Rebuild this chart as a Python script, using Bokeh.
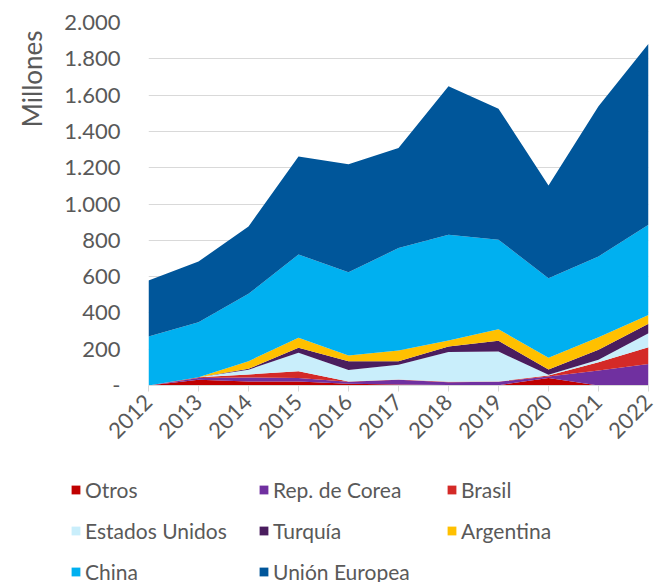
from bokeh.plotting import figure
from bokeh.models import (ColumnDataSource, Legend, LegendItem, FixedTicker,
                          Range1d, Title)
from bokeh.layouts import column
from bokeh.embed import file_html
from bokeh.resources import INLINE
from math import pi

years = [2012, 2013, 2014, 2015, 2016, 2017, 2018, 2019, 2020, 2021, 2022]
otros = [0, 31, 22, 22, 9, 5, 3, 2, 42, 0, 0]
corea = [0, 11, 22, 20, 11, 26, 15, 18, 8, 83, 119]
brasil = [0, 4, 17, 37, 2, 2, 2, 2, 5, 45, 92]
estados_unidos = [0, 0, 26, 101, 64, 81, 164, 165, 4, 14, 77]
turquia = [0, 0, 5, 28, 48, 20, 31, 59, 29, 55, 52]
argentina = [0, 0, 42, 55, 31, 59, 33, 64, 65, 69, 49]
china = [270, 303, 371, 459, 459, 564, 582, 493, 438, 445, 496]
union_europea = [309, 334, 371, 540, 595, 551, 819, 722, 511, 827, 998]

series_keys = ["otros", "corea", "brasil", "eeuu", "turquia", "argentina",
               "china", "ue"]
series_labels = ["Otros", "Rep. de Corea", "Brasil", "Estados Unidos",
                 "Turquía", "Argentina", "China", "Unión Europea"]
colors = ["#C00000", "#7030A0", "#D42A27", "#C9EEFB", "#4A1D5E", "#FFC000",
          "#00B0F0", "#00569A"]

y_ticks = [0, 200, 400, 600, 800, 1000, 1200, 1400, 1600, 1800, 2000]
y_tick_labels = ["-", "200", "400", "600", "800", "1.000", "1.200", "1.400",
                 "1.600", "1.800", "2.000"]

FONT = "Lato"
GRAY = "#595959"

source = ColumnDataSource(dict(
    year=years, otros=otros, corea=corea, brasil=brasil,
    eeuu=estados_unidos, turquia=turquia, argentina=argentina,
    china=china, ue=union_europea))

p = figure(width=654, height=465, output_backend="svg", toolbar_location=None,
           x_range=Range1d(2012, 2022), y_range=Range1d(0, 2000),
           min_border_left=148, min_border_right=6, min_border_top=22,
           min_border_bottom=80)
p.outline_line_color = None
p.background_fill_color = "white"

renderers = p.varea_stack(stackers=series_keys, x="year", color=colors,
                          source=source)

p.xgrid.grid_line_color = None
p.ygrid.grid_line_color = "#D9D9D9"
p.ygrid.grid_line_width = 1
p.ygrid.level = "underlay"

p.yaxis.ticker = FixedTicker(ticks=y_ticks)
p.yaxis.major_label_overrides = {t: l for t, l in zip(y_ticks, y_tick_labels)}
p.yaxis.axis_line_color = None
p.yaxis.major_tick_line_color = None
p.yaxis.major_tick_out = 0
p.yaxis.major_tick_in = 0
p.yaxis.minor_tick_line_color = None
p.yaxis.minor_tick_out = 0
p.yaxis.major_label_standoff = 28
p.yaxis.major_label_text_font = FONT
p.yaxis.major_label_text_font_size = "22px"
p.yaxis.major_label_text_color = GRAY

p.xaxis.ticker = FixedTicker(ticks=years)
p.xaxis.major_label_overrides = {y: str(y) for y in years}
p.xaxis.axis_line_color = "#D9D9D9"
p.xaxis.major_tick_line_color = "#D9D9D9"
p.xaxis.major_tick_out = 6
p.xaxis.major_tick_in = 0
p.xaxis.minor_tick_line_color = None
p.xaxis.major_label_orientation = pi / 4
p.xaxis.major_label_standoff = 7
p.xaxis.major_label_text_font = FONT
p.xaxis.major_label_text_font_size = "22px"
p.xaxis.major_label_text_color = GRAY

ytitle = Title(text="Millones", align="right", vertical_align="top",
               text_font=FONT, text_font_size="26px",
               text_font_style="normal", text_color=GRAY, standoff=24,
               offset=8)
p.add_layout(ytitle, "left")

# legend panel: the same stacked series, drawn outside this panel's ranges,
# so only their legend swatches are visible
lg = figure(width=654, height=117, output_backend="svg", toolbar_location=None,
            x_range=Range1d(0, 1), y_range=Range1d(0, 1),
            min_border_left=0, min_border_right=0, min_border_top=0,
            min_border_bottom=0)
lg.axis.visible = False
lg.grid.grid_line_color = None
lg.outline_line_color = None
swatches = lg.varea_stack(stackers=series_keys, x="year", color=colors,
                          source=source)

legend_x = 70
if "frame_align" in lg.properties():
    lg.frame_align = False
    p.frame_align = False
else:
    legend_x = 70 - 148

items = [LegendItem(label=lab, renderers=[r])
         for lab, r in zip(series_labels, swatches)]
legend = Legend(items=items, orientation="horizontal", ncols=3,
                location=(legend_x, -10), padding=0, margin=0, spacing=0,
                glyph_width=11, glyph_height=11, label_standoff=4,
                label_width=173, label_height=41,
                label_text_font=FONT, label_text_font_size="21px",
                label_text_color=GRAY, border_line_color=None,
                background_fill_alpha=0)
lg.add_layout(legend, "center")

layout = column(p, lg, spacing=0)
open("out.html", "w").write(file_html(layout, INLINE))
